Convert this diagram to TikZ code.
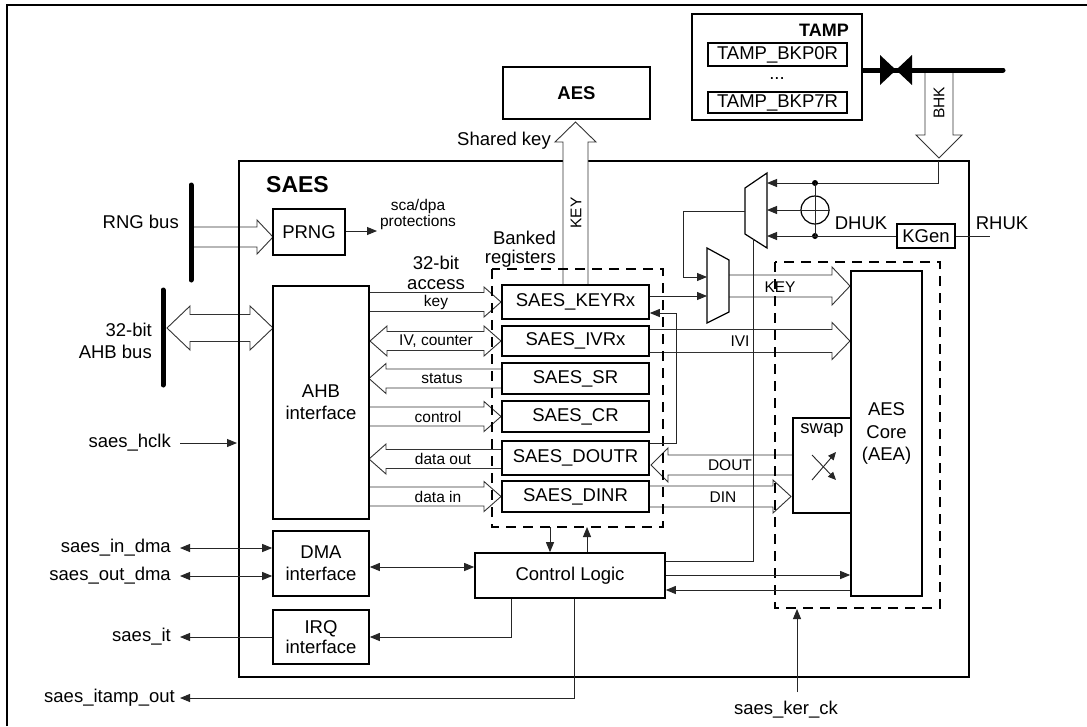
\documentclass[tikz,border=0pt]{standalone}
\usepackage{fontspec}
\setmainfont{Liberation Sans}
\usetikzlibrary{arrows.meta,calc}
\newcommand{\mainf}{\fontsize{18.5}{21}\selectfont}
\newcommand{\smallf}{\fontsize{15.5}{17}\selectfont}
% horizontal hollow arrow: tail x, head-base x, tip x, y, shaft half, head half
\newcommand{\HarR}[6]{%
  \fill[white] (#1,#4-#5) -- (#2,#4-#5) -- (#2,#4-#6) -- (#3,#4) -- (#2,#4+#6) -- (#2,#4+#5) -- (#1,#4+#5) -- cycle;
  \draw[harw] (#1,#4-#5) -- (#2,#4-#5) -- (#2,#4-#6) -- (#3,#4) -- (#2,#4+#6) -- (#2,#4+#5) -- (#1,#4+#5);}
% vertical hollow arrow: tail y, head-base y, tip y, x, shaft half, head half
\newcommand{\HarV}[6]{%
  \fill[white] (#4-#5,#1) -- (#4-#5,#2) -- (#4-#6,#2) -- (#4,#3) -- (#4+#6,#2) -- (#4+#5,#2) -- (#4+#5,#1) -- cycle;
  \draw[harw] (#4-#5,#1) -- (#4-#5,#2) -- (#4-#6,#2) -- (#4,#3) -- (#4+#6,#2) -- (#4+#5,#2) -- (#4+#5,#1);}
% double hollow arrow: tip1, base1, base2, tip2, y, shaft half, head half
\newcommand{\HarD}[7]{%
  \filldraw[harw,fill=white] (#1,#5) -- (#2,#5-#7) -- (#2,#5-#6) -- (#3,#5-#6) -- (#3,#5-#7) -- (#4,#5) -- (#3,#5+#7) -- (#3,#5+#6) -- (#2,#5+#6) -- (#2,#5+#7) -- cycle;}
\tikzset{
  Tp/.tip={Triangle[length=10pt,width=8pt]},
  Ts/.tip={Triangle[length=8pt,width=7pt]},
  blk/.style={draw=black, line width=1.6pt, fill=white, inner sep=0pt, align=center, font=\mainf},
  sblk/.style={draw=black, line width=1.1pt, fill=white, inner sep=0pt, align=center, font=\mainf},
  harw/.style={draw=black!80, line width=0.9pt, line join=miter},
  wire/.style={draw=black!85, line width=0.9pt},
  dbox/.style={draw=black, line width=1.8pt, dash pattern=on 10pt off 7pt},
  mux/.style={draw=black, line width=1.2pt, fill=white, line join=miter},
  lbl/.style={font=\smallf, inner sep=0pt},
}
\begin{document}
\begin{tikzpicture}[x=1pt,y=-1pt,font=\mainf]
\useasboundingbox (0,0) rectangle (1087,726);
\fill[white] (0,0) rectangle (1087,726);
% outer frame
\draw[line width=2pt] (7,726) -- (7,5) -- (1087,5);
% SAES block
\draw[line width=2.4pt] (239,161) rectangle (969,677);
\node[font=\fontsize{23}{26}\selectfont\bfseries, anchor=west, inner sep=0pt] (saeslbl) at (266,185) {SAES};

% ---------- hollow arrows ----------
\HarR{193}{257}{273}{237}{10}{17}
\HarD{167}{190}{250}{273}{328}{13.5}{22}
\HarR{369}{484}{501}{302}{9.5}{15}
\HarD{370}{387}{484}{501}{341}{9.5}{15}
\HarR{502}{386}{369}{378.5}{9.5}{15}
\HarR{369}{484}{501}{416.5}{9.5}{15}
\HarR{502}{386}{369}{459}{9.5}{15}
\HarR{369}{484}{501}{496.5}{9.5}{15}
\HarV{284}{142}{122}{575.5}{12.5}{20.5}
\HarV{72}{135}{158}{939}{14}{23}
\HarR{729}{832}{850}{286}{11}{19}
\HarR{650}{832}{850}{341}{11.5}{18.5}
\HarR{793}{668}{651}{465}{10}{17}
\HarR{650}{773}{791}{496.5}{10.5}{16.5}
% SAES left edge visible through the incoming buses
\draw[line width=2.4pt] (239,161) -- (239,677);

% arrow labels
\node[lbl] at (436,302) {key};
\node[lbl] at (436,341) {IV, counter};
\node[lbl] at (442,378.5) {status};
\node[lbl] at (438,416.5) {control};
\node[lbl] at (443,459) {data out};
\node[lbl] at (438,496.5) {data in};
\node[lbl,rotate=90] at (576,213) {KEY};
\node[lbl,rotate=90] at (939,103) {BHK};
\node[lbl] at (780,287) {KEY};
\node[lbl] at (740,341) {IVI};
\node[lbl] at (730,465) {DOUT};
\node[lbl] at (723,497) {DIN};

% ---------- TAMP ----------
\draw[line width=5pt, line cap=round] (860,70) -- (1003,70);
\node[blk, minimum width=170pt, minimum height=106pt] (tamp) at (777,67) {};
\node[font=\fontsize{18}{20}\selectfont\bfseries, anchor=east, inner sep=0pt] (tamplbl) at (849,30) {TAMP};
\node[sblk, minimum width=139pt, minimum height=23pt] (bkp0) at (777.5,54.5) {TAMP\_BKP0R};
\node[anchor=base, inner sep=0pt] (dots) at (777,79) {...};
\node[sblk, minimum width=139pt, minimum height=21pt] (bkp7) at (777.5,102.5) {TAMP\_BKP7R};
\fill (880,55) -- (880,85) -- (896,70) -- cycle;
\fill (912,55) -- (912,85) -- (896,70) -- cycle;

% ---------- boxes ----------
\node[blk, minimum width=147pt, minimum height=52pt, font=\mainf\bfseries] (aes) at (576.5,93) {AES};
\node[blk, minimum width=72pt, minimum height=46pt] (prng) at (309,232) {PRNG};
\node[blk, minimum width=96pt, minimum height=233pt, font=\fontsize{18.5}{22}\selectfont] (ahb) at (321,402.5) {AHB\\interface};
\node[blk, minimum width=96pt, minimum height=65pt, font=\fontsize{18.5}{22}\selectfont] (dma) at (321,563.5) {DMA\\interface};
\node[blk, minimum width=96pt, minimum height=54pt, font=\fontsize{18.5}{20.5}\selectfont] (irq) at (321,637) {IRQ\\interface};
\node[blk, minimum width=147pt, minimum height=34pt] (keyr) at (575.5,302) {SAES\_KEYRx};
\node[blk, minimum width=147pt, minimum height=30pt] (ivr) at (575.5,341) {SAES\_IVRx};
\node[blk, minimum width=147pt, minimum height=31pt] (sr) at (575.5,378.5) {SAES\_SR};
\node[blk, minimum width=147pt, minimum height=31pt] (cr) at (575.5,416.5) {SAES\_CR};
\node[blk, minimum width=147pt, minimum height=34pt] (doutr) at (575.5,458) {SAES\_DOUTR};
\node[blk, minimum width=147pt, minimum height=31pt] (dinr) at (575.5,496.5) {SAES\_DINR};
\node[blk, minimum width=190pt, minimum height=45pt] (cl) at (570,575.5) {Control Logic};
\node[blk, minimum width=71pt, minimum height=325pt, font=\fontsize{18.5}{22.5}\selectfont] (core) at (886.5,433.5) {AES\\Core\\(AEA)};
\node[sblk, line width=1.3pt, minimum width=58pt, minimum height=95pt] (swap) at (822,465.5) {};
\node[inner sep=0pt] (swaplbl) at (822,430) {swap};
\node[sblk, line width=1.4pt, minimum width=58pt, minimum height=24pt] (kgen) at (926,236) {KGen};
\node[draw=black, line width=1.2pt, circle, minimum size=28pt, inner sep=0pt] (xor) at (815,210) {};
\draw[wire] (xor.north) -- (xor.south) (xor.west) -- (xor.east);

% multiplexers
\draw[mux] (745,188) -- (767,173) -- (767,248) -- (745,234) -- cycle;
\draw[mux] (707,248) -- (729,260) -- (729,312) -- (707,323) -- cycle;
\coordinate (m1a) at (767,183);
\coordinate (m1b) at (767,210);
\coordinate (m1c) at (767,236);
\coordinate (m1out) at (745,211);
\coordinate (m1sel) at (753,239);
\coordinate (m2a) at (707,277);
\coordinate (m2b) at (707,296);

% dashed groups
\draw[dbox] (492,269) rectangle (663,527);
\draw[dbox] (775,262) rectangle (940,608);

% ---------- wires ----------
\draw[wire,-Tp] (938,161) -- (938,183) -- (m1a);
\fill (815,183) circle (3pt);
\fill (815,236) circle (3pt);
\draw[wire] (815,183) -- (xor.north);
\draw[wire] (xor.south) -- (815,236);
\draw[wire,-Tp] (xor.west) -- (m1b);
\draw[wire,-Tp] (kgen.west) -- (m1c);
\coordinate (rhukpin) at (990,236);
\draw[wire] (kgen.east) -- (rhukpin);
\draw[wire,-Tp] (m1out) -- (683,211) -- (683,277) -- (m2a);
\draw[wire,-Tp] ($(keyr.east)+(0,-6)$) -- (m2b);
\draw[wire,-Tp] ($(doutr.east)+(0,-15)$) -- (676,443) -- (676,313) -- ($(keyr.east)+(0,11)$);
\draw[wire] ($(cl.east)+(0,-14.5)$) -- (753,561) -- (m1sel);
\draw[wire,-Tp] ($(cl.east)+(0,-0.5)$) -- (core.west |- 0,575);
\draw[wire,-Tp] (core.west |- 0,590) -- ($(cl.east)+(0,14.5)$);
\draw[wire,-Tp] (550,527) -- (cl.north -| 550,0);
\draw[wire,-Tp] (cl.north -| 587,0) -- (587,527);
\draw[wire,Tp-Tp] ($(dma.east)+(0,3.5)$) -- (cl.west |- 0,567);
\draw[wire,-Tp] (cl.south -| 511,0) -- (511,637) -- (irq.east);
\coordinate (pitamp) at (180,698);
\draw[wire,-Tp] (cl.south -| 574,0) -- (574,698) -- (pitamp);
\coordinate (pindma) at (180,548);
\coordinate (poutdma) at (180,576);
\coordinate (pit) at (180,637);
\coordinate (phclk) at (180,443);
\coordinate (pker) at (797,692);
\coordinate (psca) at (377,231);
\draw[wire,Tp-Tp] (pindma) -- (pindma -| dma.west);
\draw[wire,Tp-Tp] (poutdma) -- (poutdma -| dma.west);
\draw[wire,-Tp] (irq.west) -- (pit);
\draw[wire,-Tp] (phclk) -- (237,443);
\draw[wire,-Tp] (pker) -- (797,609);
\draw[wire,-Tp] ($(prng.east)+(0,-1)$) -- (psca);
% swap symbol
\draw[wire,-Ts] (812,480) -- (836,452);
\draw[wire,-Ts] (812,455) -- (836,480);

% buses
\draw[line width=5pt, line cap=round] (191,185) -- (191,280);
\draw[line width=5pt, line cap=round] (163,290) -- (163,385);

% ---------- labels ----------
\node[anchor=east, inner sep=0pt] (lrng) at (179,222) {RNG bus};
\node[anchor=east, align=right, inner sep=0pt, font=\fontsize{18.5}{22}\selectfont] (lahb) at (152,341) {32-bit\\AHB bus};
\node[anchor=east, inner sep=0pt] (lhclk) at (171,443) {saes\_hclk};
\node[anchor=east, inner sep=0pt] (lindma) at (171,548) {saes\_in\_dma};
\node[anchor=east, inner sep=0pt] (loutdma) at (171,576) {saes\_out\_dma};
\node[anchor=east, inner sep=0pt] (lit) at (171,637) {saes\_it};
\node[anchor=east, inner sep=0pt] (litamp) at (175,698) {saes\_itamp\_out};
\node[inner sep=0pt] (lker) at (786,710) {saes\_ker\_ck};
\node[align=center, inner sep=0pt, font=\fontsize{15.5}{16}\selectfont] (lsca) at (418,214) {sca/dpa\\protections};
\node[anchor=east, inner sep=0pt] (lshared) at (551,141) {Shared key};
\node[anchor=east, align=right, inner sep=0pt, font=\fontsize{18.5}{19}\selectfont] (lbanked) at (556,249) {Banked\\registers};
\node[align=center, inner sep=0pt, font=\fontsize{18.5}{20}\selectfont] (lacc) at (436,273) {32-bit\\access};
\node[inner sep=0pt] (ldhuk) at (861,223) {DHUK};
\node[inner sep=0pt] (lrhuk) at (1002,223) {RHUK};
\end{tikzpicture}
\end{document}
